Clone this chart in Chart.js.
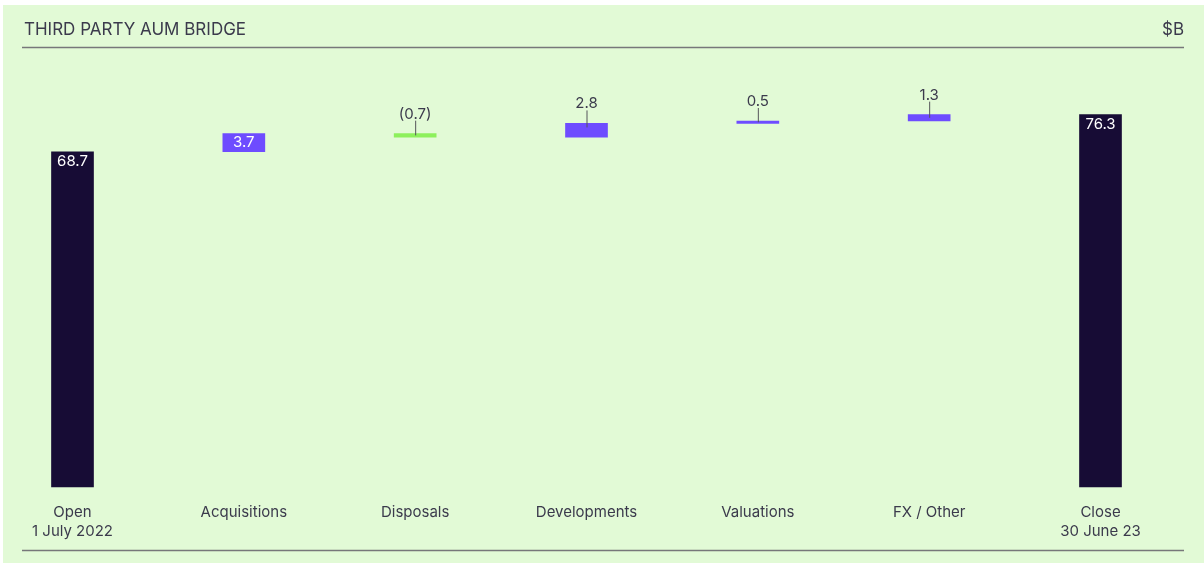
<!DOCTYPE html>
<html>
<head>
<meta charset="utf-8">
<script src="https://cdn.jsdelivr.net/npm/chart.js@4.4.0/dist/chart.umd.min.js"></script>
<style>
  html, body { margin: 0; padding: 0; background: #ffffff; }
  #wrap { position: absolute; left: 3px; top: 5px; width: 1201px; height: 558px; background: #e2fad6; }
</style>
</head>
<body>
<div id="wrap"><canvas id="bridgeChart"></canvas></div>
<script>
// values ($B)
const categories = [['Open', '1 July 2022'], 'Acquisitions', 'Disposals', 'Developments', 'Valuations', 'FX / Other', ['Close', '30 June 23']];
const movements = [68.7, 3.7, -0.7, 2.8, 0.5, 1.3, 76.3];
const isTotal = [true, false, false, false, false, false, true];
const valueLabels = ['68.7', '3.7', '(0.7)', '2.8', '0.5', '1.3', '76.3'];

const textColor = '#3b3a4c';
const lineColor = '#77777a';

// floating bars: totals start at zero, movements start where the last one ended
let running = 0;
const ranges = movements.map((v, i) => {
    if (isTotal[i]) { running = v; return [0, v]; }
    const start = running;
    running = +(running + v).toFixed(1);
    return [start, running];
});
const barColors = movements.map((v, i) => isTotal[i] ? '#170c35' : (v < 0 ? '#8df05c' : '#6e4cff'));

// title, unit and the two rules
const frame = {
    id: 'frame',
    beforeDraw(chart) {
        const c = chart.ctx;
        c.save();
        c.fillStyle = textColor;
        c.font = '17px Inter';
        c.textBaseline = 'middle';
        c.textAlign = 'left';
        c.fillText('THIRD PARTY AUM BRIDGE', 21, 25);
        c.textAlign = 'right';
        c.fillText('$B', 1181, 25);
        c.strokeStyle = lineColor;
        c.lineWidth = 1.5;
        c.beginPath();
        c.moveTo(19, 42.5); c.lineTo(1181, 42.5);
        c.moveTo(19, 545.5); c.lineTo(1181, 545.5);
        c.stroke();
        c.restore();
    }
};

// value labels: inside the tall bars, above the small ones with a leader line
const barLabels = {
    id: 'barLabels',
    afterDatasetsDraw(chart) {
        const c = chart.ctx;
        const meta = chart.getDatasetMeta(0);
        c.save();
        c.font = '15px Inter';
        c.textAlign = 'center';
        meta.data.forEach((bar, i) => {
            const top = Math.min(bar.y, bar.base);
            const h = Math.abs(bar.base - bar.y);
            if (h > 16) {
                c.fillStyle = '#ffffff';
                c.textBaseline = 'middle';
                c.fillText(valueLabels[i], bar.x, top + Math.min(10, h / 2));
            } else {
                c.strokeStyle = '#55555a';
                c.lineWidth = 1;
                c.beginPath();
                c.moveTo(bar.x + 0.5, top - 13);
                c.lineTo(bar.x + 0.5, top + Math.min(4, h / 2));
                c.stroke();
                c.fillStyle = textColor;
                c.textBaseline = 'alphabetic';
                c.fillText(valueLabels[i], bar.x, top - 15);
            }
        });
        c.restore();
    }
};

new Chart(document.getElementById('bridgeChart'), {
    type: 'bar',
    data: {
        labels: categories,
        datasets: [{
            data: ranges,
            backgroundColor: barColors,
            borderSkipped: false,
            barThickness: 42,
            clip: false
        }]
    },
    options: {
        responsive: true,
        maintainAspectRatio: false,
        animation: false,
        layout: { padding: { left: 69.5, right: 103.5, top: 55, bottom: 6 } },
        plugins: {
            legend: { display: false },
            tooltip: { enabled: false }
        },
        scales: {
            x: {
                offset: false,
                grid: { display: false, drawTicks: false },
                border: { display: false },
                ticks: {
                    color: textColor,
                    font: { family: 'Inter', size: 15, lineHeight: 1.27 },
                    padding: 16,
                    autoSkip: false,
                    maxRotation: 0
                }
            },
            y: {
                display: false,
                min: 0,
                max: 87.5
            }
        }
    },
    plugins: [frame, barLabels]
});
</script>
</body>
</html>
